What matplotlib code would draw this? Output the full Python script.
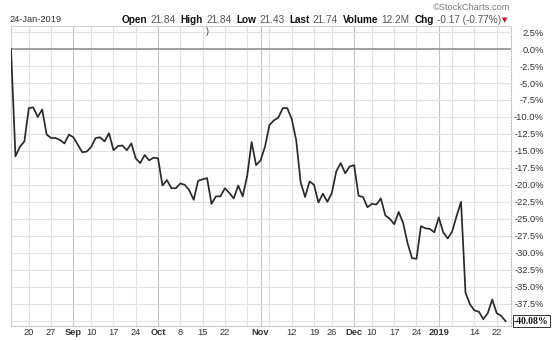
"""Performance chart (StockCharts style), 14-Aug-2018 .. 24-Jan-2019."""

import matplotlib

matplotlib.use("Agg")
import matplotlib.pyplot as plt
import pandas as pd

# --- data -------------------------------------------------------------------
start_date = "2018-08-14"
end_date = "2019-01-24"
holidays = ["2018-09-03", "2018-11-22", "2018-12-05", "2018-12-25",
            "2019-01-01", "2019-01-21"]

# % change vs. first close, one value per trading day
pct_change = [
    0.0, -15.8, -14.4, -13.6, -8.7, -8.6, -10.0, -8.9, -12.6, -13.1,
    -13.1, -13.4, -13.9, -12.6, -13.0, -14.1, -15.2, -15.1, -14.4, -13.1,
    -13.0, -13.6, -12.4, -14.9, -14.3, -14.2, -14.9, -13.9, -16.1, -16.8,
    -15.6, -16.4, -16.0, -16.1, -20.1, -19.3, -20.5, -20.5, -19.8, -20.0,
    -20.8, -22.2, -19.4, -19.2, -19.0, -22.8, -21.7, -21.7, -20.5, -21.2,
    -22.0, -20.1, -21.7, -18.7, -13.7, -17.1, -16.4, -14.4, -11.2, -10.5,
    -10.1, -8.7, -8.7, -10.3, -13.4, -19.6, -21.8, -19.5, -20.0, -22.6,
    -21.3, -22.5, -21.2, -18.0, -16.8, -18.3, -17.3, -17.1, -21.6, -21.8,
    -23.3, -22.8, -22.9, -22.0, -24.5, -25.0, -25.8, -24.0, -25.6, -28.6,
    -30.8, -30.9, -26.1, -26.4, -26.5, -27.0, -24.8, -27.0, -27.9, -26.9,
    -24.6, -22.5, -35.9, -37.6, -38.5, -38.7, -39.8, -38.9, -36.9, -38.9,
    -39.3, -40.08,
]

tick_dates = ["2018-08-20", "2018-08-27", "2018-09-04", "2018-09-10",
              "2018-09-17", "2018-09-24", "2018-10-01", "2018-10-08",
              "2018-10-15", "2018-10-22", "2018-10-29", "2018-11-01",
              "2018-11-05", "2018-11-12", "2018-11-19", "2018-11-26",
              "2018-12-03", "2018-12-10", "2018-12-17", "2018-12-24",
              "2019-01-02", "2019-01-07", "2019-01-14", "2019-01-22"]
tick_labels = ["20", "27", "Sep", "10", "17", "24", "Oct", "8", "15", "22",
               "", "Nov", "", "12", "19", "26", "Dec", "10", "17", "24",
               "2019", "", "14", "22"]
month_labels = {"Sep", "Oct", "Nov", "Dec", "2019"}

y_ticks = [2.5 - 2.5 * i for i in range(18)]  # 2.5 .. -40.0

header = [("Open", "21.84"), ("High", "21.84"), ("Low", "21.43"),
          ("Last", "21.74"), ("Volume", "12.2M"), ("Chg", "-0.17 (-0.77%)")]
date_text = "24-Jan-2019"
last_text = "-40.08%"

# --- figure -----------------------------------------------------------------
plt.rcParams["font.family"] = ["Liberation Sans", "DejaVu Sans"]
FS = 6.7
HFS = 7.2  # header font size

W, H = 560, 340
fig = plt.figure(figsize=(W / 100, H / 100), dpi=100)
fig.patch.set_facecolor("white")

left_px, right_px, top_px, bot_px = 11, 510.5, 26, 326
ax = fig.add_axes([left_px / W, 1 - bot_px / H,
                   (right_px - left_px) / W, (bot_px - top_px) / H])

days = pd.bdate_range(start_date, end_date)
days = days[~days.isin(pd.to_datetime(holidays))]
x = list(range(len(days)))
tick_pos = [days.get_loc(pd.Timestamp(d)) for d in tick_dates]

# grid
for pos, lab in zip(tick_pos, tick_labels):
    col = "#c4c4c4" if lab in month_labels else "#e2e2e2"
    ax.axvline(pos, color=col, lw=0.8, zorder=0)
for yv in y_ticks:
    ax.axhline(yv, color="#e2e2e2", lw=0.8, zorder=0)
ax.axhline(0, color="#9a9a9a", lw=1.3, zorder=1)

ax.plot(x, pct_change, color="#2a2a2a", lw=1.25, zorder=3,
        solid_joinstyle="round")

ax.set_xlim(0, 112.1)
ax.set_ylim(-40.8, 3.4)

ax.set_xticks(tick_pos)
ax.set_xticklabels(tick_labels)
for t in ax.get_xticklabels():
    if t.get_text() in month_labels:
        t.set_fontweight("bold")
ax.tick_params(axis="x", length=0, pad=1.5, labelsize=FS, colors="#333333")

ax.yaxis.tick_right()
ax.set_yticks(y_ticks[:-1])
ax.set_yticklabels([f"{v:.1f}%" for v in y_ticks[:-1]])
ax.tick_params(axis="y", length=0, pad=24, labelsize=FS, colors="#333333")
for t in ax.get_yticklabels():
    t.set_horizontalalignment("right")

for side in ("left", "top"):
    ax.spines[side].set_color("#cfcfcf")
    ax.spines[side].set_linewidth(0.8)
for side in ("right", "bottom"):
    ax.spines[side].set_color("#bdbdbd")
    ax.spines[side].set_linewidth(0.8)
    ax.spines[side].set_linestyle((0, (1, 1.5)))

# last-value tag
ax.annotate(last_text, xy=(1.0, pct_change[-1]),
            xycoords=("axes fraction", "data"),
            xytext=(2.5, 0), textcoords="offset points",
            ha="left", va="center", fontsize=FS + 0.2, fontweight="bold",
            family="Liberation Serif", color="#111111",
            bbox=dict(boxstyle="square,pad=0.12", fc="white", ec="#333333",
                      lw=0.7))

# header
fig.text(10 / W, 1 - 20 / H, date_text, fontsize=FS, color="#333333",
         va="center", ha="left")
fig.text(510 / W, 1 - 7 / H, "\u00a9StockCharts.com", fontsize=FS,
         color="#777777", va="center", ha="right")
fig.text(206 / W, 1 - 32 / H, ")", fontsize=FS - 0.5, color="#333333",
         va="center", ha="left")

renderer = fig.canvas.get_renderer()
cur = 122
for name, val in header:
    t = fig.text(cur / W, 1 - 20 / H, name, fontsize=HFS,
                 fontweight="bold", color="#111111", va="center", ha="left")
    cur += t.get_window_extent(renderer).width + 3
    t = fig.text(cur / W, 1 - 20 / H, val, fontsize=HFS, color="#555555",
                 va="center", ha="left")
    cur += t.get_window_extent(renderer).width + 5
fig.text((cur - 3.5) / W, 1 - 20 / H, "\u25bc", fontsize=5,
         color="#c0141e", va="center", ha="left", family="DejaVu Sans")

fig.savefig("out.png", dpi=100)
